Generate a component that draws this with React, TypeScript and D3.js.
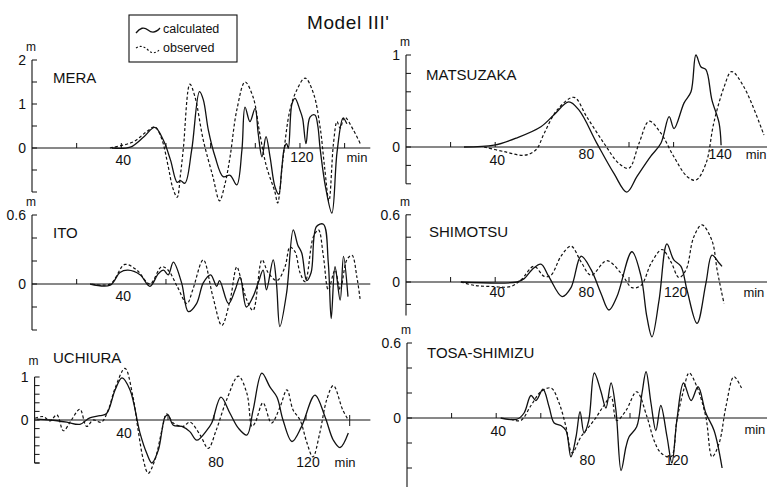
import * as d3 from "d3";

type Pt = [number, number];

// time (min), height (m)
const meraCalc: Pt[] = [[35.8,0],[44,0.02],[50,0.25],[55,0.47],[58.8,0.18],[62,-0.27],[65,-0.78],[66.5,-0.74],[68.5,-0.8],[71.5,-0.05],[75,1.28],[76.7,1.1],[79,0.4],[82,-0.2],[85.6,-0.65],[88.7,-0.62],[91.7,-0.84],[94,-0.05],[95.4,0.93],[97.6,0.6],[99.9,0.9],[101.3,0.33],[103,-0.2],[104.8,0.26],[106.6,-0.2],[108.8,-0.88],[110.5,-1.05],[111.8,-0.5],[113,0],[114,0.1],[114.8,0],[116.4,1.0],[117.8,1.13],[120,0.86],[121.2,0.67],[122.7,0.1],[124.5,0.7],[126.7,0.75],[128,0.5],[129,0],[131.5,-0.9],[134.3,-1.48],[136.6,-0.1],[139.3,0.68],[141,0.55]];
const meraObs: Pt[] = [[34.9,0],[45.3,0.14],[51.3,0.37],[55,0.48],[58,0.22],[61,-0.42],[63,-0.9],[65,-1.12],[66.5,-0.6],[67.8,0],[70.7,1.45],[73,1.16],[76.7,0.18],[81,-0.65],[84,-1.2],[86.5,-0.8],[88.7,-0.2],[91.7,0.86],[95.4,1.5],[99,1.16],[102,0.33],[105,-0.42],[108.8,-1.0],[110,-1.25],[112.5,-0.2],[115.5,0.86],[118.6,1.32],[122.3,1.59],[126,1.25],[129,0.48],[131,-0.42],[133,-1.2],[135,0.1],[136.6,0.6],[138,0.45],[140,0.7],[144,0.4],[147,0.1]];

const itoCalc: Pt[] = [[26,0],[35,-0.01],[39.4,0.1],[43,0.12],[48.4,0.08],[52.8,-0.02],[56.6,0.09],[58.9,0.12],[61,0.08],[63.3,0.19],[67,0.01],[70,-0.24],[73.7,-0.17],[76.7,0.01],[80,0.08],[82.7,-0.02],[84,0.03],[88,-0.17],[91,-0.05],[93.2,0.06],[96,-0.2],[99,-0.11],[101.3,0.01],[103.5,0.12],[105,-0.05],[108,0.21],[109.5,0],[111,-0.37],[114,-0.08],[117,0.47],[119,0.34],[120.8,0.27],[123,0.03],[125,0.1],[127.4,0.5],[130.5,0.52],[132.7,0.18],[134,-0.3],[135.7,0.15],[138,-0.14],[139.5,0.24],[141.5,-0.11]];
const itoObs: Pt[] = [[27,0],[35,0],[41.6,0.17],[47,0.12],[52.8,0],[58,0.15],[61,0.12],[65,-0.02],[69.4,-0.17],[72,-0.05],[76.7,0.21],[81,-0.11],[85,-0.36],[88.7,-0.14],[91.7,0.15],[93.5,0.05],[96.2,-0.14],[99,-0.23],[103,0.21],[105.7,0.1],[109.7,0.03],[113.3,0.15],[115.5,0.32],[117.8,0.28],[120,0.1],[122.3,0.02],[126,0.41],[128.3,0.47],[130.5,0.24],[132.7,-0.05],[135.7,0.12],[138,-0.05],[141,0.21],[143.3,0.25],[145.5,0.06],[147,-0.14]];

const uchiuraCalc: Pt[] = [[3,0.02],[8.7,0],[16,-0.05],[21.7,-0.1],[26,0.05],[30.4,0.1],[33.3,0.15],[37,0.7],[40,0.98],[43.5,0.7],[47.8,-0.3],[50.8,-0.78],[53,-1.0],[55.8,-0.7],[58.7,0.07],[60,0.12],[62.3,-0.12],[66,-0.15],[69.5,-0.27],[72.5,-0.47],[77,-0.23],[79,-0.07],[83,0.53],[87,0.15],[90.6,-0.19],[94.3,-0.35],[97,0.23],[100.8,1.09],[104.3,0.77],[107.4,0.53],[110,0],[113.9,-0.5],[118,-0.16],[123.9,0.58],[128.3,0.07],[131.9,-0.47],[134.8,-0.64],[138.4,-0.3]];
const uchiuraObs: Pt[] = [[2.2,0.04],[5.7,0.08],[8.7,-0.02],[11.7,0.12],[14.5,-0.25],[18,0],[21.7,0.25],[24.6,-0.15],[27.5,0],[31,-0.05],[34,0.23],[37,0.74],[41.3,1.2],[44.8,0.53],[47,-0.23],[49.3,-0.93],[51.4,-1.24],[54.3,-0.93],[57.4,-0.23],[59.4,0.14],[62.3,-0.07],[66.5,-0.15],[69.5,-0.05],[74,-0.35],[77.5,-0.66],[81,-0.23],[85.5,0.47],[90.6,1.02],[94.3,0.62],[96.5,-0.15],[98,-0.05],[101.3,0.4],[105,-0.07],[108.7,0.3],[111.7,0.7],[114.4,0.23],[117.4,0],[120.4,-0.53],[123,-0.86],[126,-0.3],[129,0.47],[131.9,0.8],[136,0.23],[138.4,0]];

const matsuCalc: Pt[] = [[26,0],[39.5,0.02],[49.8,0.1],[60.5,0.22],[66.4,0.35],[73,0.49],[77.6,0.4],[85.6,0.04],[93.3,-0.29],[99,-0.49],[103.6,-0.32],[109.8,-0.1],[114.3,0.04],[118,0.33],[120.2,0.2],[124.7,0.48],[127.8,0.6],[130,1.0],[132.3,0.87],[134.5,0.84],[137.2,0.51],[140.4,0.26],[141.3,0.02]];
const matsuObs: Pt[] = [[35,0],[44,-0.05],[53,-0.09],[58.3,-0.03],[62,0.15],[67.7,0.4],[75.3,0.54],[81,0.33],[88.8,0.04],[95.5,-0.18],[100,-0.23],[104.5,0.04],[109,0.28],[114.3,0.15],[120,-0.1],[126,-0.32],[130,-0.36],[134.5,-0.18],[138,0.26],[142.6,0.65],[146,0.82],[151.6,0.65],[160.5,0.13]];

const shimoCalc: Pt[] = [[24.6,0],[49.8,0],[53,0.03],[56.5,0.11],[60.5,0.16],[64,0.05],[70,-0.13],[74,-0.05],[78.5,0.23],[83,0.11],[87.4,-0.1],[91,-0.25],[94.6,-0.13],[101.3,0.27],[105.4,0.05],[108,-0.31],[110.3,-0.49],[113.5,-0.16],[117,0.34],[120,0.2],[123.3,0.14],[126,-0.07],[130.5,-0.37],[134.5,-0.01],[137.2,0.24],[140.4,0.17],[141.7,0.14]];
const shimoObs: Pt[] = [[24.6,0],[30.5,-0.03],[38,-0.04],[47,-0.04],[51.6,0.02],[57.4,0.14],[62,0.05],[65,0.06],[69.5,0.23],[74,0.32],[78.5,0.18],[83,0.06],[90,0.19],[96.4,0.08],[101.3,-0.05],[105.4,-0.03],[110,0.17],[114.8,0.29],[118.8,0.18],[122.4,0.04],[125.6,0.11],[129,0.4],[132.7,0.51],[137.2,0.37],[139.5,0.11],[141.3,-0.07],[142.6,-0.19]];

const tosaCalc: Pt[] = [[42,0],[49.3,-0.01],[52.5,0.04],[55.6,0.18],[57.8,0.14],[61,0.23],[63.7,0.09],[66,-0.04],[69,-0.06],[71.3,-0.1],[73.5,-0.31],[75.8,-0.15],[77.6,0.05],[79.4,-0.12],[81.5,-0.02],[84,0.36],[87,0.21],[89.2,0.08],[91.5,0.28],[93.7,0.06],[96,-0.42],[98.2,-0.23],[99.6,-0.15],[103,-0.07],[105.4,0.2],[107.2,0.37],[109.4,0.12],[111.6,-0.1],[113.8,0.1],[116.6,-0.15],[118.8,-0.36],[121,-0.02],[124,0.28],[127.4,0.14],[130.5,0.25],[134,0.04],[137.7,-0.1],[141.3,-0.4]];
const tosaObs: Pt[] = [[46.6,-0.01],[51,-0.02],[55.6,0.1],[60,0.21],[64.6,0.24],[68.2,0.12],[71.3,-0.07],[74,-0.28],[78,-0.15],[81.6,-0.07],[85,0.01],[88.3,0.1],[91.5,0.17],[94,-0.02],[98.2,0.06],[103,0.21],[107.6,0.01],[110.8,-0.18],[113.9,-0.28],[118.4,-0.31],[121,-0.02],[124,0.22],[126.5,0.36],[130,0.25],[134,0.01],[136.8,-0.31],[140,-0.2],[143,0.09],[146.6,0.33],[150,0.24]];

// layout of each panel (pixel geometry only)
const panels = [
  { name: "MERA", calc: meraCalc, obs: meraObs, x0: 32, kx: 2.233, tMin: 0, tMax: 151.5, y0: 148, ky: 44,
    yTop: 2, yBot: -1, yStep: 0.5, yLabels: [2, 1, 0],
    xTicks: [20, 40, 60, 80, 100, 120, 140], xLabels: [[40, 12], [120, 9]], min: [145.5, 9], nameXY: [53, 83] },
  { name: "ITO", calc: itoCalc, obs: itoObs, x0: 32, kx: 2.233, tMin: 0, tMax: 151.5, y0: 284, ky: 115,
    yTop: 0.6, yBot: -0.4, yStep: 0.2, yLabels: [0.6, 0],
    xTicks: [20, 60], xLabels: [[40, 12]], min: null, nameXY: [53, 238] },
  { name: "UCHIURA", calc: uchiuraCalc, obs: uchiuraObs, x0: 30, kx: 2.3, tMin: 2, tMax: 148, y0: 420, ky: 43,
    yTop: 1, yBot: -1, yStep: 0.2, yLabels: [1, 0],
    xTicks: [60, 80, 120], xLabels: [[40, 13], [80, 42], [120, 42]], min: [137, 42], nameXY: [53, 363], endTick: 139 },
  { name: "MATSUZAKA", calc: matsuCalc, obs: matsuObs, x0: 406, kx: 2.23, tMin: 0, tMax: 162, y0: 147, ky: 92,
    yTop: 1, yBot: -0.4, yStep: 0.2, yLabels: [1, 0],
    xTicks: [20, 40, 100, 120], xLabels: [[40, 13], [80, 7], [140, 7]], min: [157, 7], nameXY: [426, 80] },
  { name: "SHIMOTSU", calc: shimoCalc, obs: shimoObs, x0: 406, kx: 2.23, tMin: 0, tMax: 162, y0: 282, ky: 112,
    yTop: 0.6, yBot: -0.3, yStep: 0.2, yLabels: [0.6, 0],
    xTicks: [20, 40, 100], xLabels: [[40, 10], [80, 10], [120, 10]], min: [156, 10], nameXY: [429, 237] },
  { name: "TOSA-SHIMIZU", calc: tosaCalc, obs: tosaObs, x0: 407, kx: 2.23, tMin: 0, tMax: 162, y0: 418, ky: 125,
    yTop: 0.6, yBot: -0.56, yStep: 0.2, yLabels: [0.6, 0],
    xTicks: [20, 40, 60, 100], xLabels: [[40, 13], [80, 42], [120, 42]], min: [156, 11], nameXY: [427, 358] },
];

const font = "'Liberation Sans', Arial, sans-serif";
const ink = "#111";

function Panel({ p }: { p: any }) {
  const x = d3.scaleLinear().domain([0, 100]).range([p.x0, p.x0 + 100 * p.kx]);
  const y = d3.scaleLinear().domain([0, 1]).range([p.y0, p.y0 - p.ky]);
  const line = d3.line<Pt>().x(d => x(d[0])).y(d => y(d[1])).curve(d3.curveCatmullRom.alpha(0.5));
  const ax = x(p.tMin);
  const yt = d3.range(Math.ceil(p.yBot / p.yStep) * p.yStep, p.yTop + 1e-6, p.yStep);
  return (
    <g>
      {/* y axis */}
      <line x1={ax} x2={ax} y1={y(p.yTop)} y2={y(p.yBot)} stroke={ink} strokeWidth={1.1} />
      {yt.map((v: number, i: number) => (
        <line key={i} x1={ax} x2={ax + 5} y1={y(v)} y2={y(v)} stroke={ink} strokeWidth={1} />
      ))}
      {p.name === "UCHIURA" && <line x1={ax} x2={ax + 5} y1={y(p.yBot)} y2={y(p.yBot)} stroke={ink} />}
      {p.yLabels.map((v: number) => (
        <text key={v} x={ax - 6} y={y(v) + 5} textAnchor="end" fontSize={14} fontFamily={font} fill={ink}>
          {String(v)}
        </text>
      ))}
      <text x={ax - 1} y={y(p.yTop) - (p.name === "UCHIURA" ? 12 : 9)} textAnchor="middle" fontSize={12} fontFamily={font} fill={ink}>m</text>
      {/* zero line */}
      <line x1={ax} x2={x(p.tMax)} y1={p.y0} y2={p.y0} stroke={ink} strokeWidth={1} />
      {p.xTicks.map((t: number) => (
        <line key={t} x1={x(t)} x2={x(t)} y1={p.y0} y2={p.y0 - 5} stroke={ink} strokeWidth={1} />
      ))}
      {p.endTick && <line x1={x(p.endTick)} x2={x(p.endTick)} y1={p.y0 - 5} y2={p.y0 + 6} stroke={ink} />}
      {p.xLabels.map(([t, dy]: number[]) => (
        <text key={t} x={x(t) + 2} y={p.y0 + dy + 5} textAnchor="middle" fontSize={14} fontFamily={font} fill={ink}>{t}</text>
      ))}
      {p.min && (
        <text x={x(p.min[0])} y={p.y0 + p.min[1] + 5} textAnchor="middle" fontSize={13} fontFamily={font} fill={ink}>min</text>
      )}
      <text x={p.nameXY[0]} y={p.nameXY[1]} fontSize={15} fontFamily={font} fill={ink}>{p.name}</text>
      {/* series */}
      <path d={line(p.obs) || ""} fill="none" stroke={ink} strokeWidth={1.2} strokeDasharray="3 2.2" />
      <path d={line(p.calc) || ""} fill="none" stroke={ink} strokeWidth={1.3} />
    </g>
  );
}

export default function App() {
  return (
    <svg width={767} height={487} style={{ position: "absolute", left: 0, top: 0, background: "#fff" }}>
      <rect width={767} height={487} fill="#fff" />
      <text x={307} y={29} fontSize={19} fontFamily={font} fill={ink} letterSpacing={0.6}>Model III'</text>
      <g>
        <rect x={129} y={15} width={108} height={47} fill="none" stroke={ink} strokeWidth={1.1} />
        <path d="M136,33 Q142,25 148,30 T160,28" fill="none" stroke={ink} strokeWidth={1.3} />
        <text x={163} y={33} fontSize={12.5} fontFamily={font} fill={ink}>calculated</text>
        <path d="M136,48 Q142,44 148,50 T160,49" fill="none" stroke={ink} strokeWidth={1.1} strokeDasharray="2 2" />
        <text x={163} y={52} fontSize={12.5} fontFamily={font} fill={ink}>observed</text>
      </g>
      {panels.map(p => <Panel key={p.name} p={p} />)}
    </svg>
  );
}
